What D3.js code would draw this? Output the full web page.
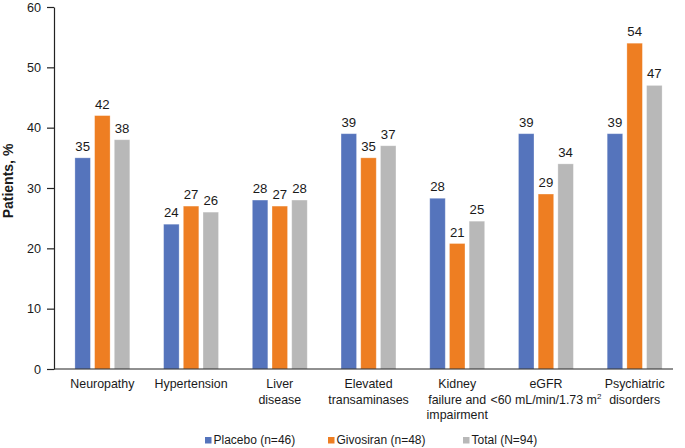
<!DOCTYPE html>
<html><head><meta charset="utf-8">
<script src="https://cdn.jsdelivr.net/npm/d3@7/dist/d3.min.js"></script>
<style>body{margin:0;background:#fff;} text{font-family:"Liberation Sans",Arial,sans-serif;fill:#1a1a1a;}</style>
</head><body>
<svg id="c" width="685" height="448"></svg>
<script>
const categories = ["Neuropathy","Hypertension","Liver disease","Elevated transaminases","Kidney failure and impairment","eGFR <60 mL/min/1.73 m2","Psychiatric disorders"];
const categoryLines = [["Neuropathy"],["Hypertension"],["Liver","disease"],["Elevated","transaminases"],["Kidney","failure and","impairment"],["eGFR","<60 mL/min/1.73 m|2"],["Psychiatric","disorders"]];
const seriesNames = ["Placebo (n=46)","Givosiran (n=48)","Total (N=94)"];
const placebo = [35,24,28,39,28.3,39,39];
const givosiran = [42,27,27,35,20.8,29,54];
const total = [38,26,28,37,24.5,34,47];
const labelsPlacebo = ["35","24","28","39","28","39","39"];
const labelsGivosiran = ["42","27","27","35","21","29","54"];
const labelsTotal = ["38","26","28","37","25","34","47"];
const yTicks = [0,10,20,30,40,50,60];
const colors = ["#5574BC","#EE7E22","#B8B8B8"];

const series = [placebo, givosiran, total];
const labels = [labelsPlacebo, labelsGivosiran, labelsTotal];

const svg = d3.select("#c");
const axisX = 54, y0 = 369, yTop = 7;
const FS = 12.4;
const x = d3.scaleBand().domain(categories).range([58, 679]).paddingInner(0).paddingOuter(0);
const y = d3.scaleLinear().domain([0,60]).range([y0, yTop]);
const barW = 15.5, pitch = 19.7;

// bars
series.forEach((vals, si) => {
  const g = svg.append("g");
  g.selectAll("rect").data(vals).join("rect")
    .attr("x", (d,i) => x(categories[i]) + x.bandwidth()/2 + (si-1)*pitch - barW/2)
    .attr("y", d => y(d))
    .attr("width", barW)
    .attr("height", d => y(0) - y(d))
    .attr("fill", colors[si])
    .attr("stroke", "#ffffff").attr("stroke-opacity", 0.35).attr("stroke-width", 0.8);
  g.selectAll("text").data(vals).join("text")
    .attr("x", (d,i) => x(categories[i]) + x.bandwidth()/2 + (si-1)*pitch)
    .attr("y", d => y(d) - 7)
    .attr("text-anchor", "middle")
    .attr("font-size", 13.2)
    .text((d,i) => labels[si][i]);
});

// y axis
const ya = svg.append("g").attr("transform", `translate(${axisX},0)`)
  .call(d3.axisLeft(y).tickValues(yTicks).tickSize(7).tickPadding(6).tickSizeOuter(0));
ya.select(".domain").attr("stroke", "#222").attr("stroke-width", 1.2);
ya.selectAll(".tick line").attr("stroke", "#222").attr("stroke-width", 1.2);
ya.selectAll(".tick text").attr("font-size", 12.6).attr("font-family", '"Liberation Sans",Arial,sans-serif').attr("fill", "#1a1a1a");

// x axis baseline
svg.append("line").attr("x1", axisX).attr("x2", 673).attr("y1", y0).attr("y2", y0)
  .attr("stroke", "#222").attr("stroke-width", 1.2);

// category labels
categories.forEach((c, i) => {
  const cx = x(c) + x.bandwidth()/2;
  const t = svg.append("text").attr("text-anchor", "middle").attr("font-size", FS)
    .attr("x", cx).attr("y", 388);
  categoryLines[i].forEach((ln, li) => {
    const parts = ln.split("|");
    t.append("tspan").attr("x", cx).attr("dy", li === 0 ? 0 : 15.5).text(parts[0]);
    if (parts[1]) {
      t.append("tspan").attr("font-size", 8).attr("dy", -5).text(parts[1]);
      t.append("tspan").attr("font-size", FS).attr("dy", 5).text("");
    }
  });
});

// y title
svg.append("text").attr("transform", "translate(13,181) rotate(-90)")
  .attr("text-anchor", "middle").attr("font-size", 14).attr("font-weight", "bold").text("Patients, %");

// legend
const legX = [205, 328, 463];
seriesNames.forEach((n, i) => {
  svg.append("rect").attr("x", legX[i]).attr("y", 437).attr("width", 6.5).attr("height", 6.5).attr("fill", colors[i]);
  svg.append("text").attr("x", legX[i] + 8.5).attr("y", 444).attr("font-size", 12).text(n);
});
</script>
</body></html>
